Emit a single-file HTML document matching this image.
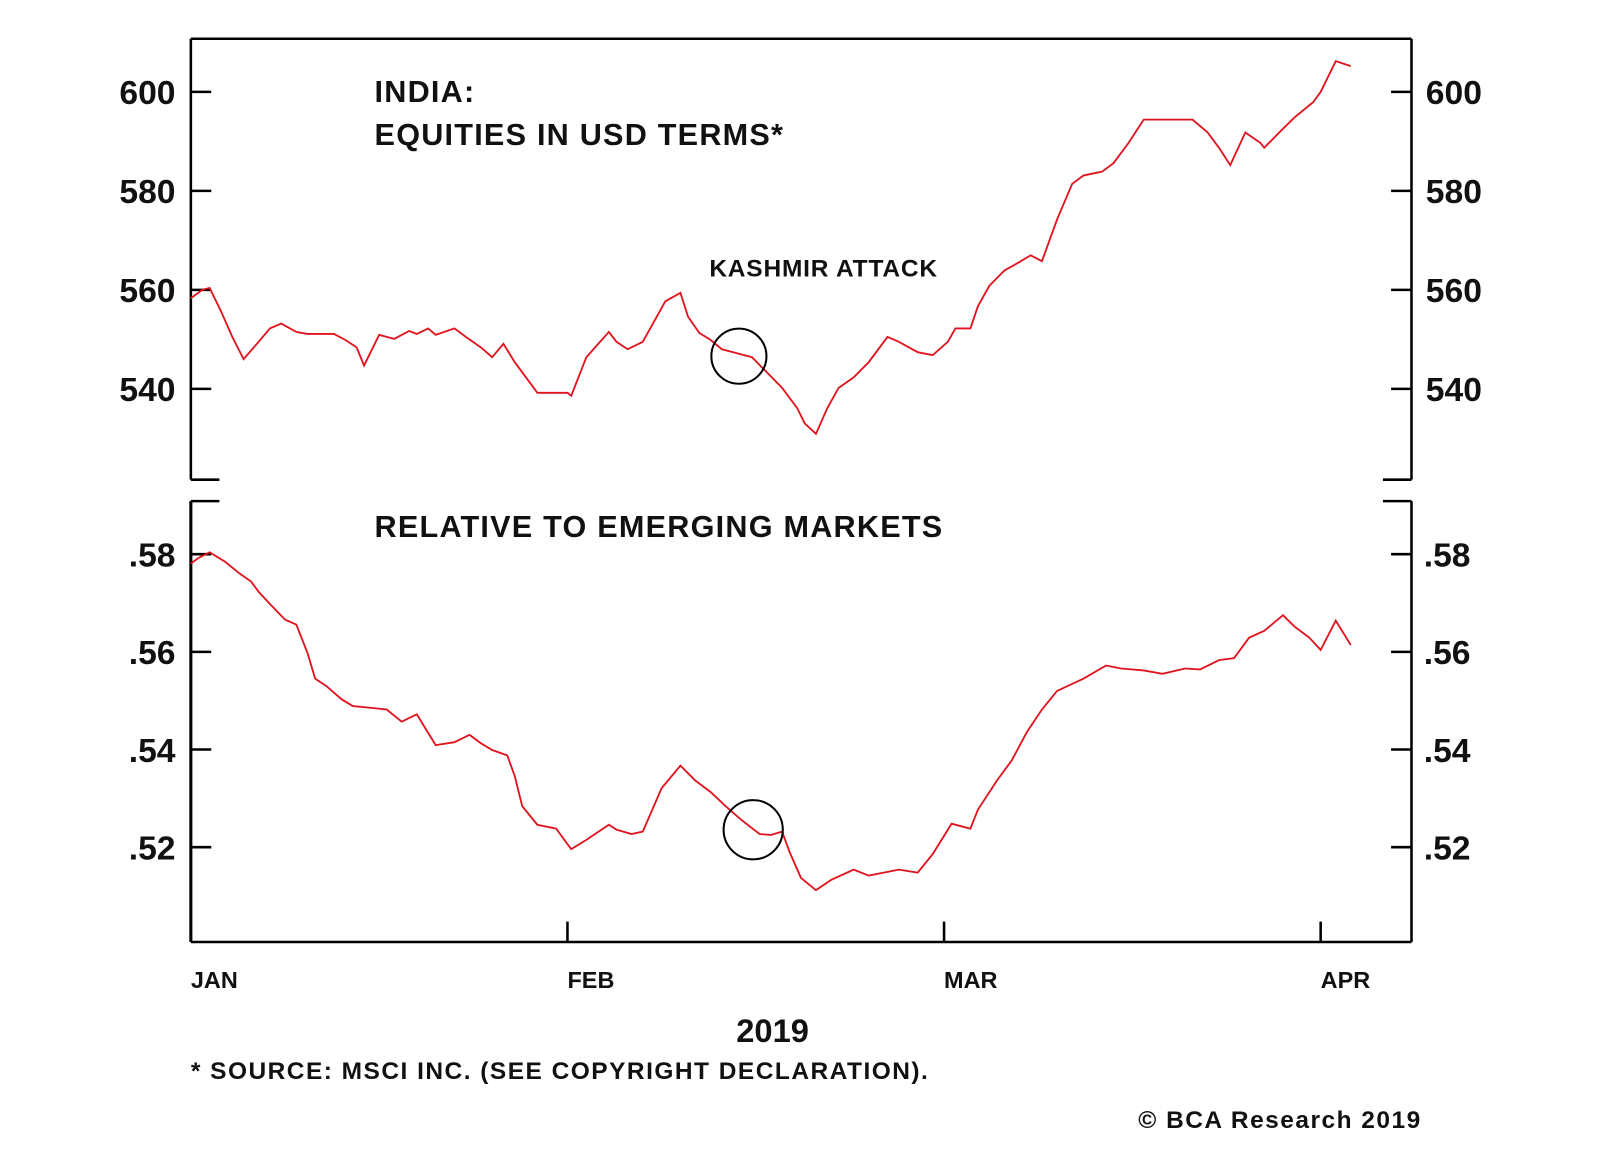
<!DOCTYPE html>
<html><head><meta charset="utf-8"><style>
html,body{margin:0;padding:0;background:#fff;}
svg{display:block;font-family:"Liberation Sans",Arial,sans-serif;}
</style></head><body>
<svg id="chart" width="1600" height="1152" viewBox="0 0 1600 1152">
<g transform="scale(1.0206)"><g id="axes"></g><g id="marks"></g><g id="labels"></g></g>
</svg>
<script>
const monthLabels = ["JAN","FEB","MAR","APR"];
const monthTicks = [0,1,2,3];
const topTicks = [540,560,580,600];
const topTickLabels = ["540","560","580","600"];
const botTicks = [0.52,0.54,0.56,0.58];
const botTickLabels = [".52",".54",".56",".58"];
const topX = [0,.03,.05,.08,.11,.14,.18,.21,.24,.28,.31,.38,.41,.44,.46,.50,.52,.54,.58,.60,.63,.65,.70,.73,.77,.80,.83,.86,.89,.92,1.00,1.01,1.05,1.11,1.13,1.16,1.20,1.23,1.26,1.30,1.32,1.35,1.38,1.41,1.44,1.49,1.53,1.57,1.61,1.63,1.66,1.69,1.72,1.76,1.80,1.85,1.88,1.93,1.97,2.01,2.03,2.07,2.09,2.12,2.16,2.20,2.23,2.26,2.30,2.34,2.37,2.42,2.45,2.49,2.53,2.66,2.70,2.73,2.76,2.80,2.84,2.85,2.89,2.93,2.98,3.00,3.04,3.08];
const topVals = [558.3,560.0,560.4,555.7,550.5,546.0,549.5,552.2,553.2,551.5,551.1,551.1,549.9,548.4,544.7,550.9,550.5,550.1,551.7,551.1,552.2,550.9,552.2,550.5,548.4,546.4,549.1,545.4,542.3,539.2,539.2,538.6,546.4,551.5,549.5,548.0,549.5,553.6,557.7,559.4,554.6,551.3,549.9,548.0,547.4,546.4,543.3,540.2,536.1,533.0,530.9,536.1,540.2,542.3,545.4,550.5,549.5,547.4,546.8,549.5,552.2,552.2,556.7,560.8,563.9,565.6,567.0,565.8,574.2,581.4,583.1,583.9,585.6,589.7,594.4,594.4,591.8,588.7,585.2,591.8,589.7,588.7,591.8,594.8,597.9,600,606.2,605.2];
const botX = [0,.02,.05,.09,.13,.16,.18,.21,.25,.28,.31,.33,.36,.40,.43,.47,.52,.56,.60,.63,.65,.70,.74,.77,.80,.84,.86,.88,.92,.97,1.01,1.05,1.11,1.13,1.17,1.20,1.25,1.30,1.34,1.38,1.42,1.46,1.51,1.54,1.57,1.59,1.62,1.66,1.70,1.76,1.80,1.84,1.88,1.93,1.97,2.02,2.05,2.07,2.09,2.14,2.18,2.22,2.26,2.30,2.37,2.43,2.47,2.53,2.58,2.64,2.68,2.73,2.77,2.81,2.85,2.90,2.93,2.97,3.00,3.04,3.08];
const botVals = [.5781,.5792,.5804,.5785,.5760,.5744,.5723,.5698,.5666,.5656,.5597,.5545,.5530,.5503,.5489,.5486,.5482,.5457,.5472,.5434,.5409,.5415,.5430,.5413,.5399,.5388,.5346,.5284,.5246,.5238,.5196,.5215,.5246,.5236,.5227,.5232,.5321,.5367,.5336,.5313,.5284,.5257,.5227,.5225,.5232,.5190,.5137,.5112,.5133,.5154,.5142,.5148,.5154,.5148,.5186,.5248,.5242,.5238,.5277,.5336,.5378,.5436,.5482,.5520,.5545,.5572,.5566,.5562,.5555,.5566,.5564,.5583,.5587,.5629,.5643,.5675,.5652,.5629,.5604,.5664,.5614];

const NS="http://www.w3.org/2000/svg";
const L=187,R=1383;
const xS=m=>187+m*369;
const yTop=v=>90+(600-v)*97/20;
const yBot=v=>543+(0.58-v)*95.7/0.02;
const axes=document.getElementById('axes'),marks=document.getElementById('marks'),labels=document.getElementById('labels');
function mk(tag,attrs,parent){const e=document.createElementNS(NS,tag);for(const k in attrs)e.setAttribute(k,attrs[k]);parent.appendChild(e);return e;}
function line(x1,y1,x2,y2,w){return mk('line',{x1,y1,x2,y2,stroke:'#000','stroke-width':w||2.5},axes);}
let e;
e=line(L,38,R,38);
line(L,38,L,470);line(R,38,R,470);line(L,470,215,470);line(1355,470,R,470);
e=line(L,923,R,923);
line(L,491,L,923,3);line(R,491,R,923);line(L,491,215,491);line(1355,491,R,491);
function text(x,y,s,size,anchor,name,ls){const t=mk('text',{x,y,'font-size':size,'font-weight':'bold','text-anchor':anchor||'start',fill:'#111','letter-spacing':ls||0},labels);t.textContent=s;return t;}
topTicks.forEach((v,i)=>{const y=yTop(v);line(L,y,L+20,y);line(R-20,y,R,y);
 text(172,y+12,topTickLabels[i],33,'end','top-y-tick-label');text(1397,y+12,topTickLabels[i],33,'start','top-y-tick-label-right');});
botTicks.forEach((v,i)=>{const y=yBot(v);line(L,y,L+20,y);line(R-20,y,R,y);
 text(172,y+12,botTickLabels[i],33,'end','bottom-y-tick-label');text(1395,y+12,botTickLabels[i],33,'start','bottom-y-tick-label-right');});
monthTicks.forEach((m,i)=>{const x=xS(m);if(i>0)line(x,903,x,923);
 text(x,968,monthLabels[i],23,'start','x-tick-label');});
function path(xs,vs,ys,name){let d='';xs.forEach((m,i)=>{d+=(i?'L':'M')+xS(m).toFixed(1)+','+ys(vs[i]).toFixed(1);});
 const p=mk('path',{d,fill:'none',stroke:'#e0141e','stroke-width':1.8},marks);
 
 }
path(topX,topVals,yTop,'india-usd-line');
path(botX,botVals,yBot,'relative-em-line');
let c=mk('circle',{cx:724,cy:349,r:27,fill:'none',stroke:'#000','stroke-width':2},marks);

c=mk('circle',{cx:738,cy:813,r:29,fill:'none',stroke:'#000','stroke-width':2},marks);

text(367,100,'INDIA:',30,'start','top-title-line1',1.2);
text(367,142,'EQUITIES IN USD TERMS*',30,'start','top-title-line2',1.2);
text(695,271,'KASHMIR ATTACK',24,'start','kashmir-annotation',0.8);
text(367,526,'RELATIVE TO EMERGING MARKETS',30,'start','bottom-title',1.2);
text(757,1021,'2019',32,'middle','x-axis-year');
text(187,1057,'* SOURCE: MSCI INC. (SEE COPYRIGHT DECLARATION).',24,'start','source-note',1.45);
text(1393,1105,'© BCA Research 2019',24,'end','copyright',1.45);
</script>
</body></html>
